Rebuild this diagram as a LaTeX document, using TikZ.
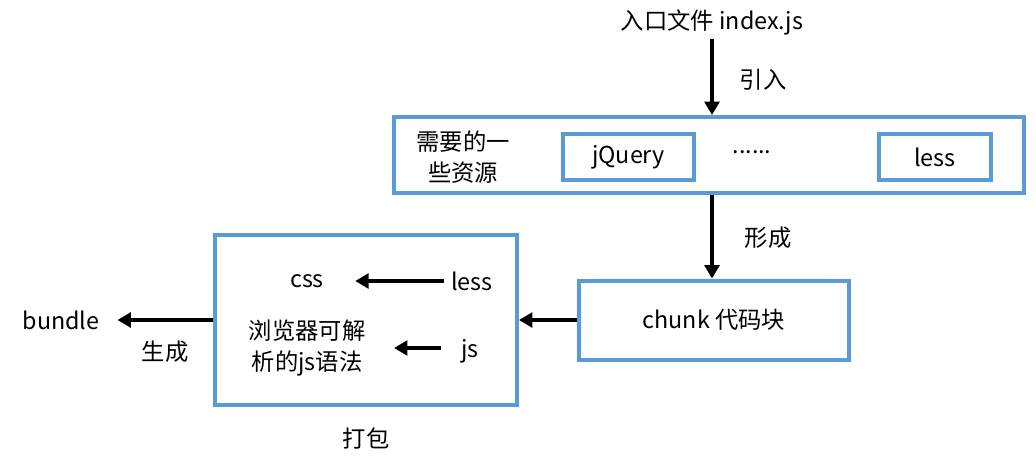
\documentclass[tikz,border=0pt]{standalone}
\usepackage{fontspec}
\setmainfont{Noto Sans CJK SC}
\usetikzlibrary{arrows.meta,positioning}
\definecolor{boxblue}{HTML}{5B9BD5}
\begin{document}
\begin{tikzpicture}[x=0.75pt, y=-0.75pt,
  font=\fontsize{17.5}{23}\selectfont,
  box/.style={draw=boxblue, line width=3pt, inner sep=0pt},
  arr/.style={line width=3pt, -{Triangle[length=10pt,width=11pt]}}]
\useasboundingbox (0,0) rectangle (1036,469);

\node (entry) at (712,22) {入口文件 index.js};
\node[box, minimum width=472.5pt, minimum height=57pt] (res) at (709,155) {};
\node[align=center] (need) at (463,157) {需要的一\\些资源};
\node[box, minimum width=98.25pt, minimum height=34.5pt] (jq) at (628.5,157) {jQuery};
\node (dots) at (752,152) {......};
\node[box, minimum width=84pt, minimum height=34.5pt] (lessbox) at (935,157) {less};
\node[box, minimum width=202.5pt, minimum height=59.25pt] (chunk) at (714,320) {chunk 代码块};
\node[box, minimum width=226.5pt, minimum height=127.5pt] (pack) at (366,320) {};
\node (css) at (307,281) {css};
\node (less) at (472,281) {less};
\node[align=center] (browser) at (307,348) {浏览器可解\\析的js语法};
\node (js) at (470,351) {js};
\node (bundle) at (61,320) {bundle};

\node (yinru) at (763,80) {引入};
\node (xingcheng) at (768,238) {形成};
\node (shengcheng) at (165,352) {生成};
\node (dabao) at (366,438) {打包};

\draw[arr] (entry.south) -- (entry.south |- res.north);
\draw[arr] (entry.south |- res.south) -- (entry.south |- chunk.north);
\draw[arr] (chunk.west) -- (pack.east);
\draw[arr, shorten >=10pt] (pack.west) -- (bundle.east);
\draw[arr, shorten <=2pt, shorten >=20pt] (less.west) -- (css.east);
\draw[arr, shorten <=12pt, shorten >=18pt] (js.west |- browser.east) -- (browser.east);
\end{tikzpicture}
\end{document}
